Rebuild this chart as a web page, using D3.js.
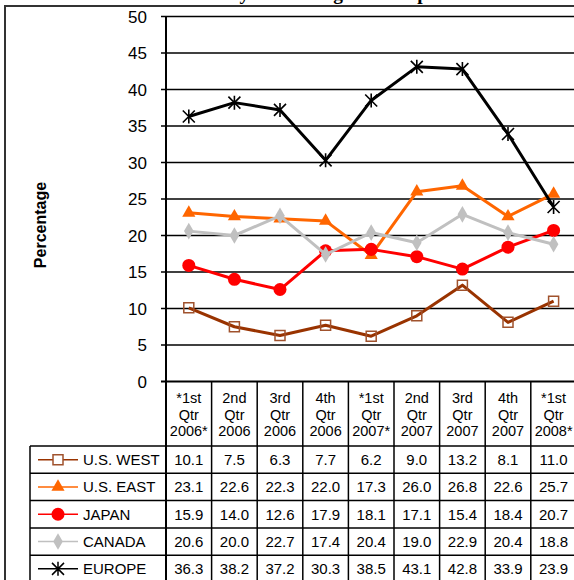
<!DOCTYPE html>
<html>
<head>
<meta charset="utf-8">
<script src="https://cdn.jsdelivr.net/npm/d3@7"></script>
<style>
  html, body { margin: 0; padding: 0; background: #fff; }
  svg { display: block; }
</style>
</head>
<body>
<div id="chart"></div>
<script>
// quarters shown on the x axis / table header
var categories = ['*1st Qtr 2006*', '2nd Qtr 2006', '3rd Qtr 2006', '4th Qtr 2006',
  '*1st Qtr 2007*', '2nd Qtr 2007', '3rd Qtr 2007', '4th Qtr 2007', '*1st Qtr 2008*'];

var usWest = [10.1, 7.5, 6.3, 7.7, 6.2, 9.0, 13.2, 8.1, 11.0];
var usEast = [23.1, 22.6, 22.3, 22.0, 17.3, 26.0, 26.8, 22.6, 25.7];
var japan  = [15.9, 14.0, 12.6, 17.9, 18.1, 17.1, 15.4, 18.4, 20.7];
var canada = [20.6, 20.0, 22.7, 17.4, 20.4, 19.0, 22.9, 20.4, 18.8];
var europe = [36.3, 38.2, 37.2, 30.3, 38.5, 43.1, 42.8, 33.9, 23.9];

var seriesNames = ['U.S. WEST', 'U.S. EAST', 'JAPAN', 'CANADA', 'EUROPE'];
var yTicks = [0, 5, 10, 15, 20, 25, 30, 35, 40, 45, 50];

(function () {
  'use strict';

  var W = 574, H = 580;
  var FONT = '"Liberation Sans", Arial, sans-serif';

  var svg = d3.select('#chart').append('svg')
    .attr('width', W).attr('height', H);

  var x = d3.scaleBand().domain(categories).range([166, 576.4]).padding(0);
  var y = d3.scaleLinear().domain([0, 50]).range([381.5, 16.5]);

  var styles = [
    { line: '#993300', marker: 'square', stroke: '#A0522D', fill: 'none' },
    { line: '#FF6600', marker: 'triangle', stroke: 'none', fill: '#FF6600' },
    { line: '#FF0000', marker: 'circle', stroke: 'none', fill: '#FF0000' },
    { line: '#C0C0C0', marker: 'diamond', stroke: 'none', fill: '#C0C0C0' },
    { line: '#000000', marker: 'star', stroke: '#000000', fill: 'none' }
  ];
  var values = [usWest, usEast, japan, canada, europe];

  // title (cut off at the top of the picture, only descenders show)
  svg.append('text')
    .attr('x', 115).attr('y', 0)
    .attr('font-family', '"Liberation Serif", "Times New Roman", serif')
    .attr('font-weight', 'bold')
    .attr('font-size', 19.4)
    .text('Business Survey: Percentage of Companies');

  // outer frame
  svg.append('path')
    .attr('d', 'M5,' + H + 'V6H' + W)
    .attr('fill', 'none').attr('stroke', '#333').attr('stroke-width', 2);

  // gridlines and ticks
  var ax = x.range()[0], bx = x.range()[1];
  yTicks.forEach(function (t) {
    svg.append('line')
      .attr('x1', ax - 5).attr('x2', bx)
      .attr('y1', y(t)).attr('y2', y(t))
      .attr('stroke', '#000').attr('stroke-width', t === 0 ? 2 : 1.5);
    svg.append('text')
      .attr('x', 147).attr('y', y(t) + 6)
      .attr('text-anchor', 'end')
      .attr('font-family', FONT).attr('font-size', 17)
      .text(t);
  });

  // y axis line
  svg.append('line')
    .attr('x1', ax).attr('x2', ax)
    .attr('y1', y(50)).attr('y2', H)
    .attr('stroke', '#000').attr('stroke-width', 2);

  svg.append('text')
    .attr('transform', 'translate(46,225) rotate(-90)')
    .attr('text-anchor', 'middle')
    .attr('font-family', FONT).attr('font-weight', 'bold').attr('font-size', 16)
    .text('Percentage');

  function markerPath(kind) {
    if (kind === 'square') return d3.symbol(d3.symbolSquare, 100)();
    if (kind === 'triangle') return d3.symbol(d3.symbolTriangle, 75)();
    if (kind === 'diamond') return d3.symbol(d3.symbolDiamond, 80)();
    if (kind === 'circle') return d3.symbol(d3.symbolCircle, 133)();
    // star: X with a vertical stroke
    return 'M-6,-6L6,6M-6,6L6,-6M0,-7V7';
  }

  var line = d3.line()
    .x(function (d, i) { return x(categories[i]) + x.bandwidth() / 2; })
    .y(function (d) { return y(d); });

  values.forEach(function (vals, s) {
    var st = styles[s];
    var g = svg.append('g');
    g.append('path')
      .attr('d', line(vals))
      .attr('fill', 'none').attr('stroke', st.line)
      .attr('stroke-width', 3).attr('stroke-linejoin', 'round');
    g.selectAll('path.m').data(vals).enter().append('path')
      .attr('class', 'm')
      .attr('d', markerPath(st.marker))
      .attr('transform', function (d, i) {
        return 'translate(' + (x(categories[i]) + x.bandwidth() / 2) + ',' + y(d) + ')';
      })
      .attr('fill', st.fill)
      .attr('stroke', st.stroke)
      .attr('stroke-width', st.marker === 'star' ? 1.6 : 1.5);
  });

  // data table
  var headTop = 381.5, headBot = 446, rowH = 27.3, legX = 30;
  var tbl = svg.append('g');

  categories.forEach(function (c, i) {
    var cx = x(c) + x.bandwidth() / 2;
    tbl.append('line')
      .attr('x1', x(c) + x.bandwidth()).attr('x2', x(c) + x.bandwidth())
      .attr('y1', headTop).attr('y2', H)
      .attr('stroke', '#000').attr('stroke-width', 1.5);
    c.split(' ').forEach(function (part, k) {
      tbl.append('text')
        .attr('x', cx).attr('y', 403 + k * 16.6)
        .attr('text-anchor', 'middle')
        .attr('font-family', FONT).attr('font-size', 14.5)
        .text(part);
    });
  });

  tbl.append('line')
    .attr('x1', legX).attr('x2', legX)
    .attr('y1', headBot).attr('y2', H)
    .attr('stroke', '#000').attr('stroke-width', 1.5);

  seriesNames.forEach(function (name, s) {
    var top = headBot + s * rowH, mid = top + rowH / 2, st = styles[s];
    tbl.append('line')
      .attr('x1', legX).attr('x2', bx)
      .attr('y1', top).attr('y2', top)
      .attr('stroke', '#000').attr('stroke-width', 1.5);
    tbl.append('line')
      .attr('x1', 38).attr('x2', 78).attr('y1', mid).attr('y2', mid)
      .attr('stroke', st.line).attr('stroke-width', 1.5);
    tbl.append('path')
      .attr('d', markerPath(st.marker))
      .attr('transform', 'translate(58,' + mid + ')')
      .attr('fill', st.fill === 'none' ? '#fff' : st.fill)
      .attr('stroke', st.stroke)
      .attr('stroke-width', 1.5);
    tbl.append('text')
      .attr('x', 83).attr('y', mid + 5.5)
      .attr('font-family', FONT).attr('font-size', 15)
      .text(name);
    values[s].forEach(function (v, i) {
      tbl.append('text')
        .attr('x', x(categories[i]) + x.bandwidth() / 2).attr('y', mid + 5.5)
        .attr('text-anchor', 'middle')
        .attr('font-family', FONT).attr('font-size', 15)
        .text(v.toFixed(1));
    });
  });
  tbl.append('line')
    .attr('x1', legX).attr('x2', bx)
    .attr('y1', headBot + 5 * rowH).attr('y2', headBot + 5 * rowH)
    .attr('stroke', '#000').attr('stroke-width', 1.5);
})();
</script>
</body>
</html>
